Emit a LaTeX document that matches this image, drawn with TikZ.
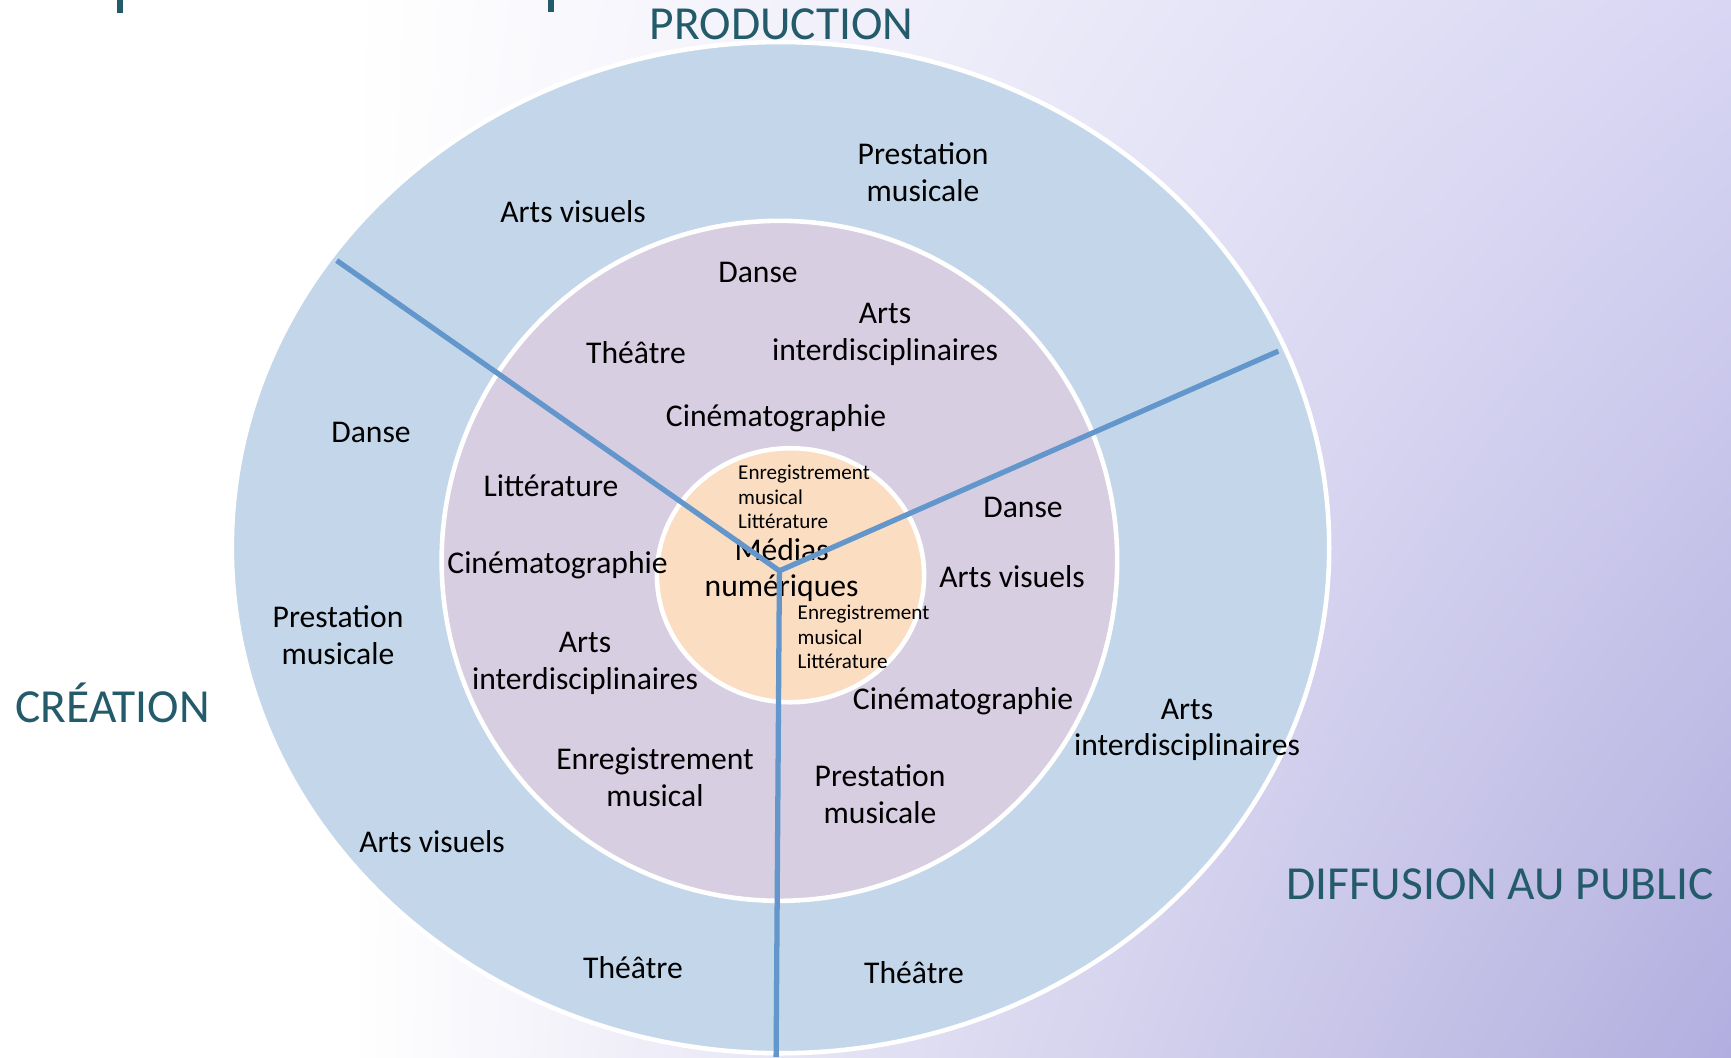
\documentclass[tikz,border=0pt]{standalone}
\usepackage{fontspec}
\setmainfont{Carlito}
\usetikzlibrary{calc,shadings}

\definecolor{ringout}{RGB}{196,215,234}
\definecolor{ringmid}{RGB}{216,206,226}
\definecolor{ringin}{RGB}{251,221,194}
\definecolor{spokeblue}{RGB}{99,151,204}
\definecolor{titleteal}{RGB}{36,91,107}
\definecolor{bgtop}{RGB}{216,214,243}
\definecolor{bgbot}{RGB}{178,174,223}

\begin{document}
\begin{tikzpicture}[x=0.1mm, y=-0.1mm]
			\tikzstyle{lbl}=[align=center, font=\fontsize{9}{10.4}\selectfont, inner sep=0pt]
			\tikzstyle{tiny}=[align=left, anchor=west, font=\fontsize{6}{7}\selectfont, inner sep=0pt]
			\tikzstyle{phase}=[text=titleteal, font=\fontsize{13.5}{16}\selectfont, inner sep=0pt]
			\tikzstyle{ring}=[draw=white, line width=1.3pt]
			\tikzstyle{spoke}=[draw=spokeblue, line width=1.5pt]
			%Background
			\useasboundingbox (0,0) rectangle (1731,1057);
			\fill[white] (0,0) rectangle (1731,1057);
			\shade[upper left=white, upper right=bgtop, lower left=white, lower right=bgbot] (350,0) rectangle (1731,1057);
			\fill[titleteal] (117,0) rectangle (123,12.5);
			\fill[titleteal] (548,0) rectangle (554,12);
			%Rings
			\path[ring, fill=ringout] (780.5,547.6) ellipse [x radius=54.87mm, y radius=50.56mm];
			\path[ring, fill=ringmid] (779.4,560.8) ellipse [x radius=33.78mm, y radius=34mm];
			\path[ring, fill=ringin] (790.5,575.2) ellipse [x radius=13.36mm, y radius=12.7mm];
			%Phases
			\node[phase](prod) at (781.6,24.3){PRODUCTION};
			\node[phase](crea) at (112.6,703){CRÉATION};
			\node[phase](diff) at (1500,884){DIFFUSION AU PUBLIC};
			%Outer Ring
			\node[lbl](oPrestP) at (923,172){Prestation\\musicale};
			\node[lbl](oArtsP) at (573,212){Arts visuels};
			\node[lbl](oDanseC) at (371,432){Danse};
			\node[lbl](oPrestC) at (338,635){Prestation\\musicale};
			\node[lbl](oArtsC) at (432,842){Arts visuels};
			\node[lbl](oTheaC) at (633,968){Théâtre};
			\node[lbl](oTheaD) at (914,973){Théâtre};
			\node[lbl](oInterD) at (1187,730){Arts\\interdisciplinaires};
			%Middle Ring
			\node[lbl](mDanseP) at (758,272){Danse};
			\node[lbl](mInterP) at (885,334.5){Arts\\interdisciplinaires};
			\node[lbl](mTheaP) at (636,353){Théâtre};
			\node[lbl](mCineP) at (776,418){Cinématographie};
			\node[lbl](mLittC) at (551,486){Littérature};
			\node[lbl](mCineC) at (557.5,565){Cinématographie};
			\node[lbl](mInterC) at (585,663.5){Arts\\interdisciplinaires};
			\node[lbl](mEnregC) at (655,777){Enregistrement\\musical};
			\node[lbl](mPrestD) at (880,794){Prestation\\musicale};
			\node[lbl](mCineD) at (963,701){Cinématographie};
			\node[lbl](mArtsD) at (1012,577){Arts visuels};
			\node[lbl](mDanseD) at (1023,507){Danse};
			%Inner Ring
			\node[tiny](iTop) at (737.5,497){Enregistrement\\musical\\Littérature};
			\node[tiny](iBot) at (797,637){Enregistrement\\musical\\Littérature};
			\node[lbl](medias) at (781.6,570){Médias\\numériques};
			%Spokes
			\coordinate (hub) at (779.4,570.8);
			\coordinate (cutCP) at (336.7,260.5);
			\coordinate (cutPD) at (1278.4,351.1);
			\coordinate (cutDC) at (776.1,1057);
			\draw[spoke](hub)--(cutCP);
			\draw[spoke](hub)--(cutPD);
			\draw[spoke](hub)--(cutDC);
\end{tikzpicture}
\end{document}
